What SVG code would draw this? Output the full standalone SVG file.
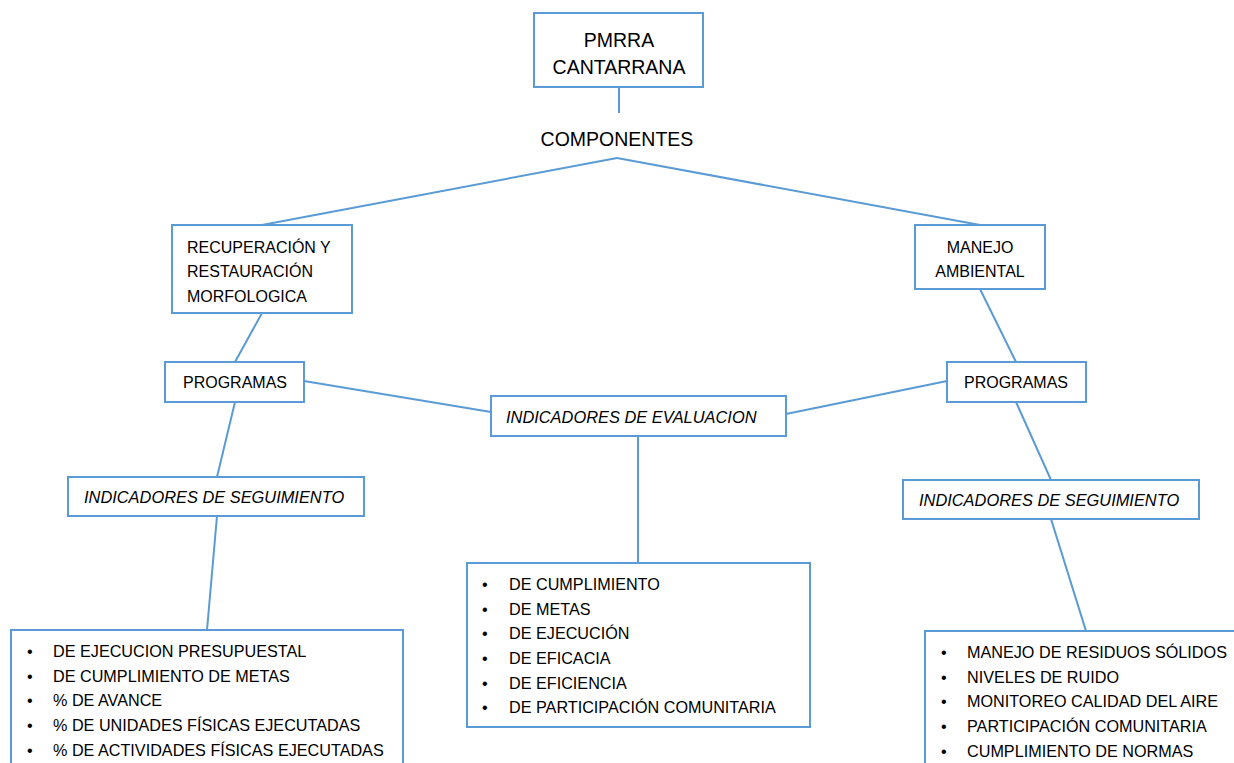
<svg xmlns="http://www.w3.org/2000/svg" width="1234" height="763" viewBox="0 0 1234 763">
<style>
.box{fill:#fff;stroke:#5B9BD5;stroke-width:2}
.ln{stroke:#5B9BD5;stroke-width:2;fill:none}
text{font-family:"Liberation Sans",Arial,sans-serif;fill:#000;font-size:16px}
.big{font-size:19.5px}
.it{font-style:italic;font-size:16.4px}
.c{text-anchor:middle}
.li{font-size:16.2px}
</style>
<rect width="1234" height="763" fill="#fff"/>
<g id="connectors">
<line class="ln" x1="619" y1="87" x2="619" y2="113"/>
<line class="ln" x1="617" y1="158" x2="262" y2="225"/>
<line class="ln" x1="617" y1="158" x2="980" y2="225"/>
<line class="ln" x1="262" y1="313" x2="235" y2="362"/>
<line class="ln" x1="980" y1="289" x2="1016" y2="362"/>
<line class="ln" x1="235" y1="402" x2="217" y2="477"/>
<line class="ln" x1="217" y1="516" x2="207" y2="630"/>
<line class="ln" x1="304" y1="381" x2="491" y2="412"/>
<line class="ln" x1="786" y1="414" x2="947" y2="381"/>
<line class="ln" x1="1016" y1="402" x2="1051" y2="480"/>
<line class="ln" x1="1051" y1="519" x2="1086" y2="631"/>
<line class="ln" x1="638" y1="436" x2="638" y2="563"/>
</g>
<g id="root">
<rect class="box" x="534" y="13" width="169" height="74"/>
<text class="big c" x="619" y="47">PMRRA</text>
<text class="big c" x="619" y="74">CANTARRANA</text>
</g>
<g id="componentes">
<text class="big c" x="617" y="146">COMPONENTES</text>
</g>
<g id="recuperacion">
<rect class="box" x="172" y="225" width="180" height="88"/>
<text x="187" y="253">RECUPERACIÓN Y</text>
<text x="187" y="277">RESTAURACIÓN</text>
<text x="187" y="302">MORFOLOGICA</text>
</g>
<g id="manejo">
<rect class="box" x="915" y="225" width="130" height="64"/>
<text class="c" x="980" y="253">MANEJO</text>
<text class="c" x="980" y="277">AMBIENTAL</text>
</g>
<g id="programas-left">
<rect class="box" x="165" y="362" width="139" height="40"/>
<text class="c" x="235" y="388">PROGRAMAS</text>
</g>
<g id="programas-right">
<rect class="box" x="947" y="362" width="139" height="40"/>
<text class="c" x="1016" y="388">PROGRAMAS</text>
</g>
<g id="evaluacion">
<rect class="box" x="491" y="396" width="295" height="40"/>
<text class="it" x="506" y="423">INDICADORES DE EVALUACION</text>
</g>
<g id="seguimiento-left">
<rect class="box" x="68" y="477" width="296" height="39"/>
<text class="it" x="84" y="503">INDICADORES DE SEGUIMIENTO</text>
</g>
<g id="seguimiento-right">
<rect class="box" x="903" y="480" width="296" height="39"/>
<text class="it" x="919" y="506">INDICADORES DE SEGUIMIENTO</text>
</g>
<g id="list-left">
<rect class="box" x="11" y="630" width="392" height="140"/>
<text class="li" x="27" y="657">•</text><text class="li" x="53" y="657">DE EJECUCION PRESUPUESTAL</text>
<text class="li" x="27" y="682">•</text><text class="li" x="53" y="682">DE CUMPLIMIENTO DE METAS</text>
<text class="li" x="27" y="706">•</text><text class="li" x="53" y="706">% DE AVANCE</text>
<text class="li" x="27" y="731">•</text><text class="li" x="53" y="731">% DE UNIDADES FÍSICAS EJECUTADAS</text>
<text class="li" x="27" y="756">•</text><text class="li" x="53" y="756">% DE ACTIVIDADES FÍSICAS EJECUTADAS</text>
</g>
<g id="list-center">
<rect class="box" x="467" y="563" width="343" height="164"/>
<text class="li" x="482" y="590">•</text><text class="li" x="509" y="590">DE CUMPLIMIENTO</text>
<text class="li" x="482" y="615">•</text><text class="li" x="509" y="615">DE METAS</text>
<text class="li" x="482" y="639">•</text><text class="li" x="509" y="639">DE EJECUCIÓN</text>
<text class="li" x="482" y="664">•</text><text class="li" x="509" y="664">DE EFICACIA</text>
<text class="li" x="482" y="689">•</text><text class="li" x="509" y="689">DE EFICIENCIA</text>
<text class="li" x="482" y="713">•</text><text class="li" x="509" y="713">DE PARTICIPACIÓN COMUNITARIA</text>
</g>
<g id="list-right">
<rect class="box" x="925" y="631" width="320" height="140"/>
<text class="li" x="941" y="658">•</text><text class="li" x="967" y="658">MANEJO DE RESIDUOS SÓLIDOS</text>
<text class="li" x="941" y="683">•</text><text class="li" x="967" y="683">NIVELES DE RUIDO</text>
<text class="li" x="941" y="707">•</text><text class="li" x="967" y="707">MONITOREO CALIDAD DEL AIRE</text>
<text class="li" x="941" y="732">•</text><text class="li" x="967" y="732">PARTICIPACIÓN COMUNITARIA</text>
<text class="li" x="941" y="757">•</text><text class="li" x="967" y="757">CUMPLIMIENTO DE NORMAS</text>
</g>
</svg>
